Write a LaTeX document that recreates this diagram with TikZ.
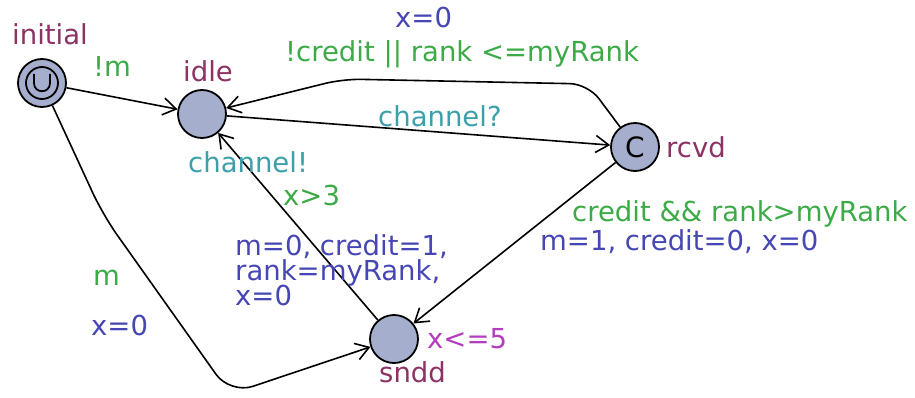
\documentclass[tikz,border=0pt]{standalone}
\usepackage{fontspec}
\setmainfont{DejaVu Sans}
\usetikzlibrary{arrows.meta}
\definecolor{locname}{RGB}{140,50,100}
\definecolor{guardc}{RGB}{60,170,70}
\definecolor{assignc}{RGB}{70,70,180}
\definecolor{syncc}{RGB}{60,160,170}
\definecolor{invc}{RGB}{180,60,190}
\definecolor{locfill}{RGB}{165,174,205}
\begin{document}
\begin{tikzpicture}[x=1pt,y=-1pt,
  loc/.style={circle,draw=black,line width=1.8pt,fill=locfill,minimum size=48pt,inner sep=0pt},
  edge/.style={draw=black,line width=1.6pt,-{Straight Barb[length=13pt,width=17pt,line width=1.6pt]}},
  lbl/.style={anchor=base west,inner sep=0pt,font=\fontsize{27.5}{27.5}\selectfont},
  nm/.style={lbl,text=locname},
  gd/.style={lbl,text=guardc},
  as/.style={lbl,text=assignc},
  sy/.style={lbl,text=syncc},
  iv/.style={lbl,text=invc}]
\useasboundingbox (0,0) rectangle (915,398);
% locations
\node[loc] (initial) at (42,83) {};
\node[circle,draw=black,line width=1.8pt,minimum size=32pt,inner sep=0pt] (initin) at (42,83) {};
\draw[line width=1.8pt] (34,74) -- (34,83) .. controls (34,94) and (50,94) .. (50,83) -- (50,74);
\node[loc] (idle) at (202,114) {};
\node[loc,font=\fontsize{28}{28}\selectfont] (rcvd) at (635,147) {C};
\node[loc] (sndd) at (394,339) {};
% names
\node[nm] (ninitial) at (12,45) {initial};
\node[nm] (nidle) at (183,82) {idle};
\node[nm] (nrcvd) at (666,158) {rcvd};
\node[nm] (nsndd) at (379,382) {sndd};
\node[iv] (isndd) at (427,348) {x<=5};
% helper coordinates
\coordinate (t1) at (588,84);
\coordinate (t2) at (343,79);
\coordinate (b1) at (103,215);
\coordinate (b2) at (230,394);
% edges
\draw[edge] (initial) -- (idle);
\draw[edge] (idle) -- (rcvd);
\draw[edge,rounded corners=18pt] (rcvd) -- (t1) -- (t2) -- (idle);
\draw[edge] (rcvd) -- (sndd);
\draw[edge] (sndd) -- (idle);
\draw[edge,rounded corners=24pt] (initial) -- (b1) -- (b2) -- (sndd);
% edge labels
\node[gd] (l1) at (93,77) {!m};
\node[sy] (l2) at (378,127) {channel?};
\node[as] (l3a) at (395,28) {x=0};
\node[gd] (l3g) at (285,62) {!credit || rank <=myRank};
\node[gd] (l4g) at (572,222) {credit \&\& rank>myRank};
\node[as] (l4a) at (540,250) {m=1, credit=0, x=0};
\node[sy] (l5s) at (188,173) {channel!};
\node[gd] (l5g) at (283,205) {x>3};
\node[as] (l5a1) at (235,255) {m=0, credit=1,};
\node[as] (l5a2) at (235,280) {rank=myRank,};
\node[as] (l5a3) at (235,305) {x=0};
\node[gd] (l6g) at (93,285) {m};
\node[as] (l6a) at (91,335) {x=0};
\end{tikzpicture}
\end{document}
